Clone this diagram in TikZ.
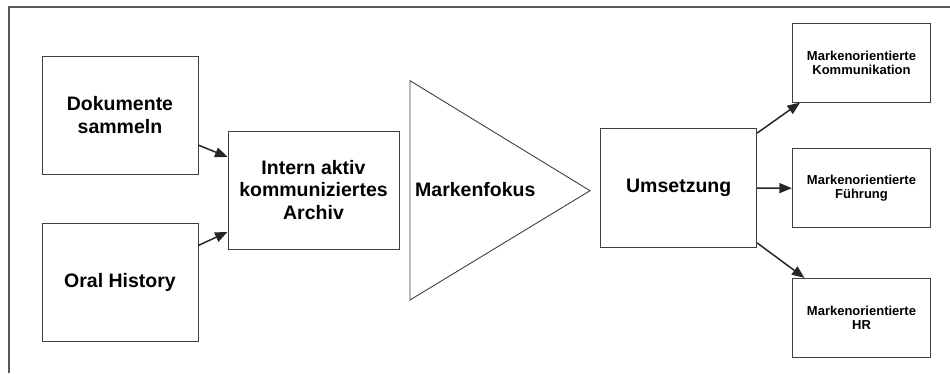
\documentclass[tikz,border=0pt]{standalone}
\usepackage{fontspec}
\setmainfont{Liberation Sans}
\usetikzlibrary{arrows.meta}

\begin{document}
\begin{tikzpicture}[x=1pt,y=1pt,
  box/.style={draw=black!75,line width=0.9pt,inner sep=0pt,align=center,
    font=\bfseries\fontsize{19.5}{22.5}\selectfont},
  smallbox/.style={box,minimum width=138.4pt,minimum height=79pt,
    font=\bfseries\fontsize{13}{14}\selectfont},
  link/.style={-{Triangle[length=12.5pt,width=10pt]},line width=1.5pt,black!85}]
\useasboundingbox (0,0) rectangle (950,373);
% frame
\draw[black!65,line width=1.3pt] (9,0) -- (9,366) -- (950,366);

% sources
\node[box,minimum width=156pt,minimum height=118pt] (doku) at (120,258) {Dokumente\\sammeln};
\node[box,minimum width=156pt,minimum height=118pt] (oral) at (120,91) {Oral History};
\node[box,minimum width=171pt,minimum height=118pt] (archiv) at (313.5,183) {Intern aktiv\\kommuniziertes\\Archiv};

% focus
\draw[black!75,line width=0.9pt] (410,292.3) -- (590,182.3) -- (410,73) -- cycle;
\node[anchor=west,inner sep=0pt,font=\bfseries\fontsize{19.5}{22.5}\selectfont] (fokus) at (415,183) {Markenfokus};

\node[box,minimum width=156pt,minimum height=118.6pt] (umsetzung) at (678.7,185) {Umsetzung};

% targets
\node[smallbox] (komm) at (861.5,310.3) {Markenorientierte\\Kommunikation};
\node[smallbox] (fuehr) at (861.5,184.8) {Markenorientierte\\Führung};
\node[smallbox] (hr) at (861.5,55.2) {Markenorientierte\\HR};

\draw[link] (doku.-21) -- (archiv.159);
\draw[link] (oral.25) -- (archiv.206);
\draw[link] (umsetzung.35) -- (komm.213);
\draw[link] (umsetzung.east) -- (fuehr.west);
\draw[link] (umsetzung.-35) -- (hr.145);
\end{tikzpicture}
\end{document}
